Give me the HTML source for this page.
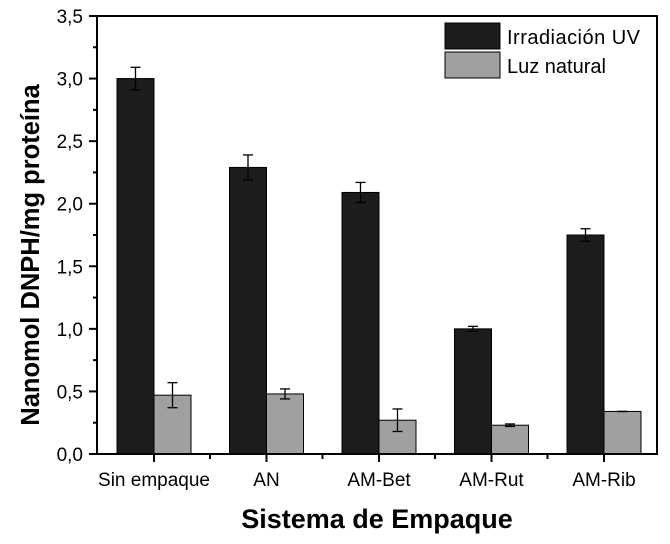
<!DOCTYPE html>
<html><head><meta charset="utf-8"><style>
body{margin:0;background:#fff;}
svg text{font-family:"Liberation Sans",Arial,sans-serif;}
</style></head><body>
<svg id="chart" width="670" height="539" viewBox="0 0 670 539" xmlns="http://www.w3.org/2000/svg">
<rect x="0" y="0" width="670" height="539" fill="#fff"/>
<g id="bars"></g>
<g id="axes"></g>
<rect x="97" y="16" width="560" height="438" fill="none" stroke="#000" stroke-width="2"/>
<g>
<rect x="445" y="23" width="55" height="26" fill="#1c1c1c" stroke="#000"/>
<text x="507" y="44" font-size="20" textLength="133">Irradiación UV</text>
<rect x="445" y="52" width="55" height="26" fill="#a0a0a0" stroke="#000"/>
<text x="507" y="73" font-size="20">Luz natural</text>
</g>
<text x="377" y="528" font-size="27" font-weight="bold" text-anchor="middle">Sistema de Empaque</text>
<text transform="translate(39,255) rotate(-90)" font-size="25.5" font-weight="bold" text-anchor="middle">Nanomol DNPH/mg proteína</text>
</svg>
<script>
const categories=["Sin empaque","AN","AM-Bet","AM-Rut","AM-Rib"];
const uvValues=[3.0,2.29,2.09,1.0,1.75];
const uvErrors=[0.09,0.1,0.08,0.02,0.05];
const naturalValues=[0.47,0.48,0.27,0.23,0.34];
const naturalErrors=[0.1,0.04,0.09,0.01,0.0];
const yTicks=[0,0.5,1.0,1.5,2.0,2.5,3.0,3.5];
const NS="http://www.w3.org/2000/svg";
const y0=454,y1=16,yMax=3.5;
function yScale(v){return y0-(v/yMax)*(y0-y1);}
function xCenter(i){return 154+i*112.5;}
const bw=37;
function mk(tag,attrs,parent){const e=document.createElementNS(NS,tag);for(const k in attrs)e.setAttribute(k,attrs[k]);parent.appendChild(e);return e;}
const bars=document.getElementById('bars'),axes=document.getElementById('axes');
function drawBar(x,v,err,fill,name){
  const r=mk('rect',{x:x,y:yScale(v),width:bw,height:y0-yScale(v),fill:fill,stroke:'#000','stroke-width':1},bars);
  
  
  const cx=x+bw/2;
  const g=mk('g',{stroke:'#000','stroke-width':1.3},bars);
  
  
  mk('line',{x1:cx,x2:cx,y1:yScale(v+err),y2:yScale(v-err)},g);
  mk('line',{x1:cx-5,x2:cx+5,y1:yScale(v+err),y2:yScale(v+err)},g);
  mk('line',{x1:cx-5,x2:cx+5,y1:yScale(v-err),y2:yScale(v-err)},g);
}
categories.forEach((c,i)=>{
  const cx=xCenter(i);
  drawBar(cx-bw,uvValues[i],uvErrors[i],'#1c1c1c','bar-uv-'+i);
  drawBar(cx,naturalValues[i],naturalErrors[i],'#a0a0a0','bar-natural-'+i);
  mk('line',{x1:cx,x2:cx,y1:y0,y2:y0+8,stroke:'#000','stroke-width':2},axes);
  if(i<categories.length-1) mk('line',{x1:cx+56,x2:cx+56,y1:y0,y2:y0+5,stroke:'#000','stroke-width':2},axes);
  const t=mk('text',{x:cx,y:486,'font-size':19,'text-anchor':'middle'},axes);
  t.textContent=c;
  
  
});
yTicks.forEach((v,i)=>{
  const y=yScale(v);
  mk('line',{x1:89,x2:97,y1:y,y2:y,stroke:'#000','stroke-width':2},axes);
  if(i<yTicks.length-1){const ym=yScale(v+0.25);mk('line',{x1:93,x2:97,y1:ym,y2:ym,stroke:'#000','stroke-width':2},axes);}
  const t=mk('text',{x:83,y:y+7,'font-size':19,'text-anchor':'end'},axes);
  t.textContent=v.toFixed(1).replace('.',',');
  
  
});
</script>
</body></html>
